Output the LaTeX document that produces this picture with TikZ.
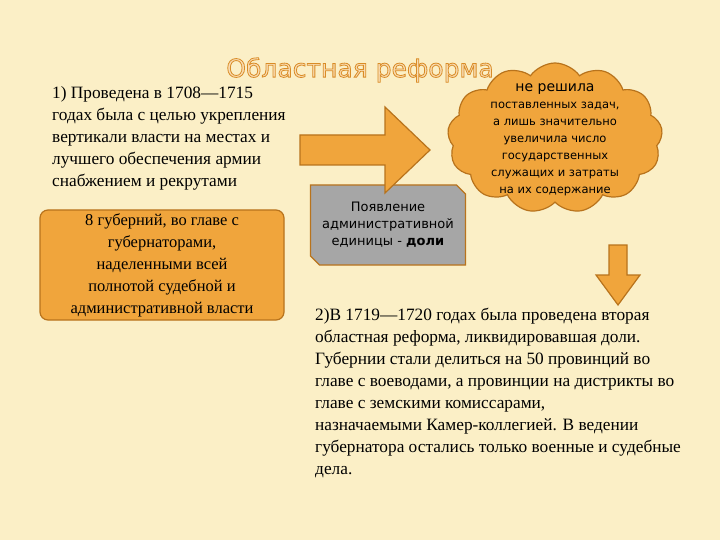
\documentclass[tikz,border=0pt]{standalone}
\usepackage{fontspec}
\setmainfont{Liberation Serif}
\newfontfamily\sansf{DejaVu Sans}
\usetikzlibrary{shapes.symbols,shapes.misc}
\definecolor{bg}{HTML}{FBEFC6}
\definecolor{org}{HTML}{F0A53C}
\definecolor{orgd}{HTML}{B8731C}
\definecolor{gry}{HTML}{A6A6A6}
\begin{document}
\begin{tikzpicture}[x=1pt,y=-1pt,
  txt/.style={anchor=north west,align=left,inner sep=0pt,font=\fontsize{17.3}{22}\selectfont},
  arr/.style={fill=org,draw=orgd,line width=1.2pt}]
\fill[bg] (0,0) rectangle (720,540);
\useasboundingbox (0,0) rectangle (720,540);
\node[font=\sansf\fontsize{25}{28}\selectfont,text=org!40!white] (title) at (360,70) {\special{pdf:literal direct 2 Tr 0.8 w 0.85 0.55 0.15 RG}Областная реформа\special{pdf:literal direct 0 Tr}};
\node[txt] (p1) at (52,86) {1) Проведена в 1708—1715\\годах была с целью укрепления\\вертикали власти на местах и\\лучшего обеспечения армии\\снабжением и рекрутами};
\node[fill=org,draw=orgd,line width=1.2pt,rounded corners=8pt,minimum width=244pt,minimum height=110pt,inner sep=0pt] (gub) at (162,265) {};
\node[align=center,font=\fontsize{16.5}{22}\selectfont] at (gub) {8 губерний, во главе с\\губернаторами,\\наделенными всей\\полнотой судебной и\\административной власти};
\node[fill=gry,draw=orgd,line width=1.2pt,chamfered rectangle,chamfered rectangle corners={north east,south west},chamfered rectangle xsep=6pt,minimum width=155pt,minimum height=80pt,align=center,font=\sansf\fontsize{13}{17}\selectfont] (dol) at (388,225) {Появление\\административной\\единицы - \textbf{доли}};
\coordinate (ra) at (300,150);
\draw[arr] (ra) ++(0,-15) -- ++(85,0) -- ++(0,-28) -- (430,150) -- (385,193) -- ++(0,-28) -- ++(-85,0) -- cycle;
\node[cloud,cloud puffs=13,cloud puff arc=110,aspect=1.3,fill=org,draw=orgd,line width=1.2pt,minimum width=215pt,minimum height=150pt,inner sep=0pt] (cl) at (555,138) {};
\node[align=center,font=\sansf\fontsize{11.5}{17}\selectfont] at (555,140) {{\fontsize{14}{16}\selectfont не решила}\\поставленных задач,\\а лишь значительно\\увеличила число\\государственных\\служащих и затраты\\на их содержание};
\coordinate (da) at (618,245);
\draw[arr] (da) ++(-9,0) -- ++(18,0) -- ++(0,30) -- ++(13,0) -- (618,305) -- (596,275) -- ++(13,0) -- cycle;
\node[txt] (p2) at (315,308) {2)В 1719—1720 годах была проведена вторая\\областная реформа, ликвидировавшая доли.\\Губернии стали делиться на 50 провинций во\\главе с воеводами, а провинции на дистрикты во\\главе с земскими комиссарами,\\назначаемыми Камер-коллегией. В ведении\\губернатора остались только военные и судебные\\дела.};
\end{tikzpicture}
\end{document}
